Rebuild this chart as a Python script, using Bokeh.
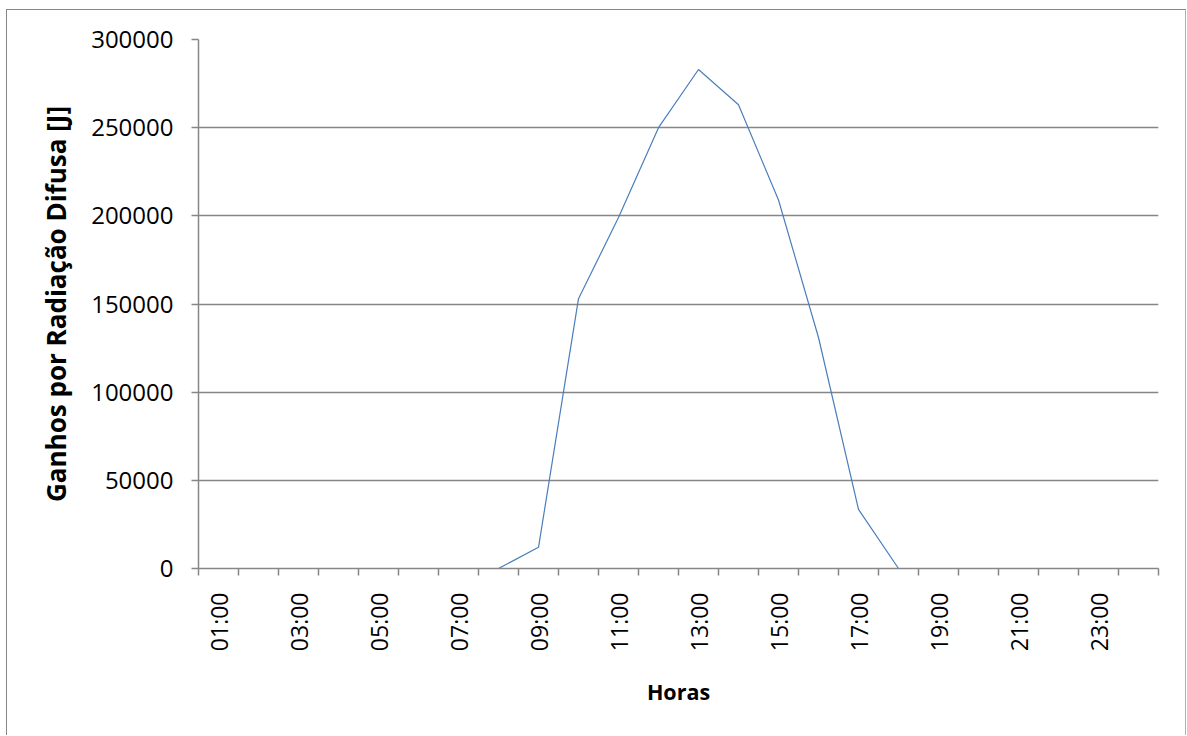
import math
from bokeh.plotting import figure
from bokeh.models import Range1d, FixedTicker, BasicTickFormatter
from bokeh.embed import file_html
from bokeh.resources import INLINE

hours = ["01:00", "02:00", "03:00", "04:00", "05:00", "06:00", "07:00", "08:00",
         "09:00", "10:00", "11:00", "12:00", "13:00", "14:00", "15:00", "16:00",
         "17:00", "18:00", "19:00", "20:00", "21:00", "22:00", "23:00", "24:00"]
ganhos = [0, 0, 0, 0, 0, 0, 0, 0,
          12000, 153000, 199000, 250000, 283000, 263000, 209000, 131000,
          33500, 0, 0, 0, 0, 0, 0, 0]
y_ticks = [0, 50000, 100000, 150000, 200000, 250000, 300000]

x_pos = list(range(1, len(hours) + 1))
label_pos = x_pos[::2]
boundaries = [i + 0.5 for i in range(0, len(hours) + 1)]

FONT = "Open Sans"
GRAY = "#868686"

p = figure(width=1180, height=726, output_backend="svg", toolbar_location=None,
           x_range=Range1d(0.5, len(hours) + 0.5), y_range=Range1d(0, 300000),
           min_border_left=191, min_border_right=29, min_border_top=29,
           min_border_bottom=168)
p.outline_line_color = None
p.styles = {"border-left": "1px solid #868686", "border-top": "1px solid #868686",
            "border-right": "1px solid #b0b0b0", "box-sizing": "border-box",
            "margin-left": "6px", "margin-top": "9px"}

p.line(x_pos, ganhos, line_color="#4A7EBB", line_width=1.2)

# x axis
xa = p.xaxis[0]
xa.ticker = FixedTicker(ticks=label_pos, minor_ticks=boundaries)
xa.major_label_overrides = {x: hours[x - 1] for x in label_pos}
xa.major_tick_out = 0
xa.major_tick_in = 0
xa.minor_tick_out = 7
xa.minor_tick_in = 0
xa.minor_tick_line_color = GRAY
xa.minor_tick_line_width = 1.5
xa.axis_line_color = GRAY
xa.axis_line_width = 1.5
xa.major_label_orientation = math.pi / 2
xa.major_label_standoff = 17
xa.major_label_text_font = FONT
xa.major_label_text_font_size = "23px"
xa.major_label_text_color = "black"
xa.axis_label = "Horas"
xa.axis_label_text_font = FONT
xa.axis_label_text_font_style = "bold"
xa.axis_label_text_font_size = "21.5px"
xa.axis_label_text_color = "black"
xa.axis_label_standoff = 23

# y axis
ya = p.yaxis[0]
ya.ticker = FixedTicker(ticks=y_ticks)
ya.formatter = BasicTickFormatter(use_scientific=False)
ya.major_tick_out = 7
ya.major_tick_in = 0
ya.minor_tick_out = 0
ya.minor_tick_in = 0
ya.major_tick_line_color = GRAY
ya.major_tick_line_width = 1.5
ya.axis_line_color = GRAY
ya.axis_line_width = 1.5
ya.major_label_standoff = 18
ya.major_label_text_font = FONT
ya.major_label_text_font_size = "24px"
ya.major_label_text_color = "black"
ya.axis_label = "Ganhos por Radiação Difusa [J]"
ya.axis_label_text_font = FONT
ya.axis_label_text_font_style = "bold"
ya.axis_label_text_font_size = "26px"
ya.axis_label_text_color = "black"
ya.axis_label_standoff = 14

p.xgrid.grid_line_color = None
p.ygrid.grid_line_color = GRAY
p.ygrid.grid_line_width = 1.5
p.ygrid.ticker = FixedTicker(ticks=y_ticks)

open("out.html", "w").write(file_html(p, INLINE))
